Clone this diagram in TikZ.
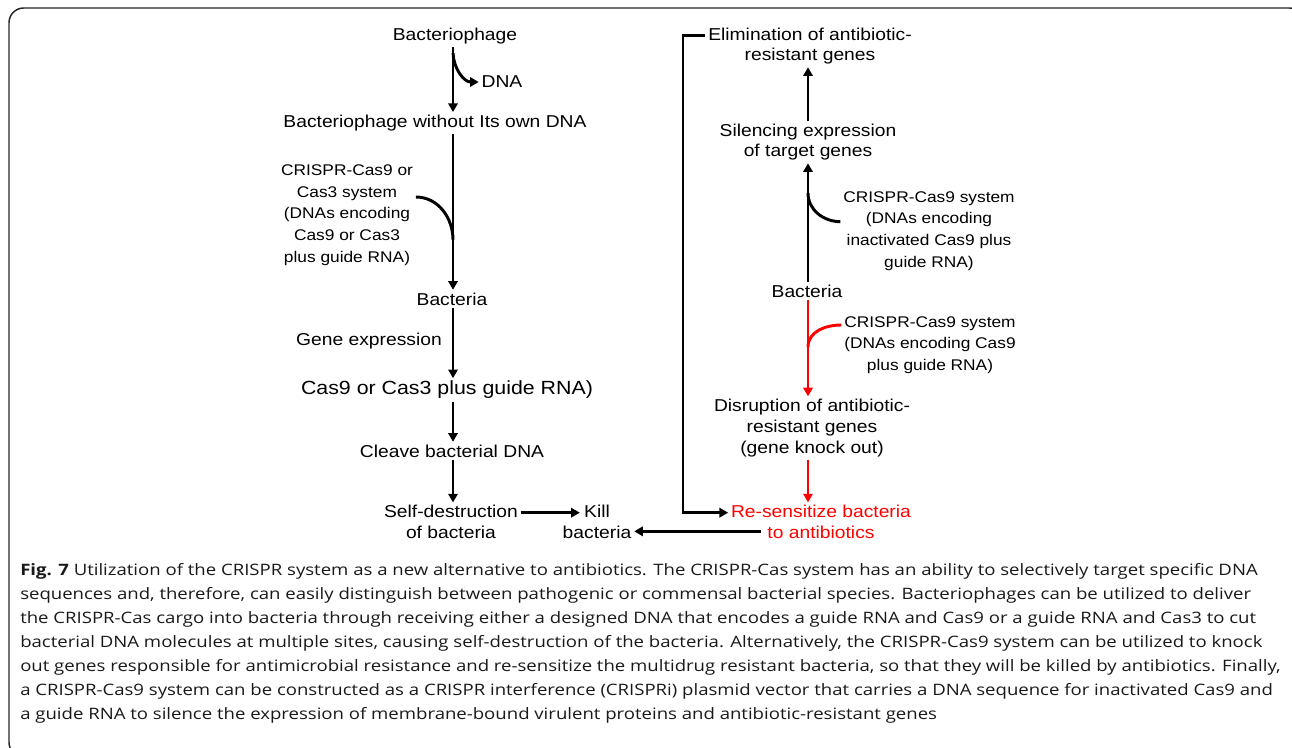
\documentclass[tikz,border=0pt]{standalone}
\usepackage{fontspec}
\setmainfont{Liberation Sans}[FakeStretch=1.12]
\newfontfamily\capfont{Open Sans}[FakeStretch=1.18]
\usetikzlibrary{arrows.meta, positioning}

\newcommand{\mainsize}{\fontsize{12.9}{15.5}\selectfont}
\newcommand{\notesize}{\fontsize{11.6}{16.3}\selectfont}
\newcommand{\bigsize}{\fontsize{14.3}{17}\selectfont}

\begin{document}
\begin{tikzpicture}[x=0.75pt, y=-0.75pt, >={Triangle[length=6.5pt,width=7pt]},
    lbl/.style={font=\mainsize, align=center, inner sep=2pt},
    note/.style={font=\notesize, align=center, inner sep=2pt},
    big/.style={font=\bigsize, inner sep=2pt},
    flow/.style={->, line width=2.2pt},
    feed/.style={line width=2.2pt},
    redflow/.style={flow, red},
    redfeed/.style={feed, red}]
    \useasboundingbox (0,0) rectangle (1292,747);
    \draw[black!85, line width=1.1pt, rounded corners=11] (9,8) rectangle (1304,757);

    % Left branch: phage delivery
    \coordinate (colL) at (453,0);
    \node[lbl] (phage) at (455,36) {Bacteriophage};
    \node[lbl] (dna) at (502,82) {DNA};
    \node[lbl] (empty) at (435,123) {Bacteriophage without Its own DNA};
    \node[note] (cas) at (347,215) {CRISPR-Cas9 or\\Cas3 system\\(DNAs encoding\\Cas9 or Cas3\\plus guide RNA)};
    \node[lbl] (bact) at (452,299) {Bacteria};
    \node[lbl] (geneexp) at (369,341) {Gene expression};
    \node[big] (enzyme) at (447,390) {Cas9 or Cas3 plus guide RNA)};
    \node[lbl] (cleave) at (452,451) {Cleave bacterial DNA};
    \node[lbl] (selfd) at (451,522) {Self-destruction\\of bacteria};
    \node[lbl] (kill) at (597,522) {Kill\\bacteria};

    % Right branch: knock out and silencing
    \coordinate (colR) at (808,0);
    \coordinate (loopx) at (683,0);
    \node[lbl] (elim) at (810,46) {Elimination of antibiotic-\\resistant genes};
    \node[lbl] (silence) at (808,142) {Silencing expression\\of target genes};
    \node[note] (dcas) at (929,231) {CRISPR-Cas9 system\\(DNAs encoding\\inactivated Cas9 plus\\guide RNA)};
    \node[lbl] (bactR) at (807,291) {Bacteria};
    \node[note] (ko) at (930,345) {CRISPR-Cas9 system\\(DNAs encoding Cas9\\plus guide RNA)};
    \node[lbl] (disrupt) at (812,428) {Disruption of antibiotic-\\resistant genes\\(gene knock out)};
    \node[lbl, text=red] (resens) at (821,522) {Re-sensitize bacteria\\to antibiotics};

    % merge points on the arrows
    \coordinate (split1) at (453,53);
    \coordinate (merge1) at (453,240);
    \coordinate (merge2) at (808,193);
    \coordinate (merge3) at (808,347);
    \coordinate (elimtap) at ([yshift=8pt]elim.west);
    \coordinate (resin) at ([yshift=7pt]resens.west);

    % left column arrows
    \draw[flow] (phage.south -| colL) -- (empty.north -| colL);
    \draw[flow] (split1) to[out=-88, in=180] (dna.west);
    \draw[flow] (empty.south -| colL) -- (bact.north -| colL);
    \draw[feed] ([yshift=13.5pt]cas.east) to[out=0, in=90] (merge1);
    \draw[flow] (bact.south -| colL) -- (enzyme.north -| colL);
    \draw[flow] (enzyme.south -| colL) -- (cleave.north -| colL);
    \draw[flow] (cleave.south -| colL) -- (selfd.north -| colL);
    \draw[flow] ([yshift=7pt]selfd.east) -- ([yshift=7pt, xshift=15pt]kill.west);

    % right column arrows
    \draw[flow] (bactR.north -| colR) -- (silence.south -| colR);
    \draw[flow] (silence.north -| colR) -- (elim.south -| colR);
    \draw[feed] ([yshift=7pt]dcas.west) to[out=180, in=-90] (merge2);
    \draw[redflow] (bactR.south -| colR) -- (disrupt.north -| colR);
    \draw[redfeed] ([yshift=15pt]ko.west) to[out=180, in=90] (merge3);
    \draw[redflow] (disrupt.south -| colR) -- (resens.north -| colR);
    \draw[flow] (elimtap) -| (loopx |- resin) -- (resin);
    \draw[flow] ([yshift=-7pt, xshift=25pt]resens.west) -- ([yshift=-7pt]kill.east);

    % caption
    \node[anchor=north west, align=left, inner sep=0pt, font=\capfont\fontsize{11.8}{18}\selectfont, text=black!90] (caption) at (20,563)
      {\textbf{Fig. 7} Utilization of the CRISPR system as a new alternative to antibiotics. The CRISPR-Cas system has an ability to selectively target specific DNA\\
       sequences and, therefore, can easily distinguish between pathogenic or commensal bacterial species. Bacteriophages can be utilized to deliver\\
       the CRISPR-Cas cargo into bacteria through receiving either a designed DNA that encodes a guide RNA and Cas9 or a guide RNA and Cas3 to cut\\
       bacterial DNA molecules at multiple sites, causing self-destruction of the bacteria. Alternatively, the CRISPR-Cas9 system can be utilized to knock\\
       out genes responsible for antimicrobial resistance and re-sensitize the multidrug resistant bacteria, so that they will be killed by antibiotics. Finally,\\
       a CRISPR-Cas9 system can be constructed as a CRISPR interference (CRISPRi) plasmid vector that carries a DNA sequence for inactivated Cas9 and\\
       a guide RNA to silence the expression of membrane-bound virulent proteins and antibiotic-resistant genes};
\end{tikzpicture}
\end{document}
